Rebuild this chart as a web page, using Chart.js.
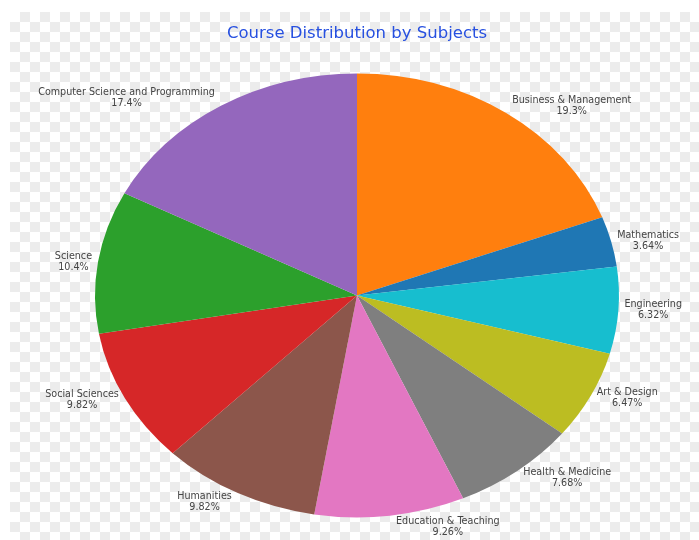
<!DOCTYPE html>
<html>
<head>
<meta charset="utf-8">
<script src="https://cdn.jsdelivr.net/npm/chart.js@4"></script>
<style>
  html, body { margin: 0; padding: 0; background: #fff; }
  #wrap { width: 699px; height: 540px; }
</style>
</head>
<body>
<div id="wrap"><canvas id="pieChart" width="699" height="540"></canvas></div>
<script>
// Данные диаграммы
const subjects = [
  "Business & Management",
  "Mathematics",
  "Engineering",
  "Art & Design",
  "Health & Medicine",
  "Education & Teaching",
  "Humanities",
  "Social Sciences",
  "Science",
  "Computer Science and Programming",
];
const shares = [19.3, 3.64, 6.32, 6.47, 7.68, 9.26, 9.82, 9.82, 10.4, 17.4];
const shareLabels = ["19.3%", "3.64%", "6.32%", "6.47%", "7.68%", "9.26%", "9.82%", "9.82%", "10.4%", "17.4%"];
const sliceColors = [
  "#ff7f0e", "#1f77b4", "#17becf", "#bcbd22", "#7f7f7f",
  "#e377c2", "#8c564b", "#d62728", "#2ca02c", "#9467bd",
];

const SQUASH = 222 / 262; // пирог сплюснут по вертикали
const LABEL_FONT = "9.6px 'DejaVu Sans'";

// Фон в клетку
const checkerBg = {
  id: "checkerBg",
  beforeDraw(chart) {
    const ctx = chart.ctx;
    ctx.save();
    ctx.fillStyle = "#fff";
    ctx.fillRect(0, 0, chart.width, chart.height);
    ctx.fillStyle = "#ececec";
    for (let y = 12; y < chart.height; y += 10) {
      for (let x = 10; x < chart.width; x += 10) {
        const row = Math.floor((y - 12) / 10);
        const col = Math.floor(x / 10);
        if ((row + col) % 2 === 0) ctx.fillRect(x, y, 10, 10);
      }
    }
    ctx.restore();
  },
};

// Сжатие круга в эллипс
const ellipse = {
  id: "ellipse",
  beforeDatasetsDraw(chart) {
    const arc = chart.getDatasetMeta(0).data[0];
    const ctx = chart.ctx;
    ctx.save();
    ctx.translate(0, arc.y);
    ctx.scale(1, SQUASH);
    ctx.translate(0, -arc.y);
  },
  afterDatasetsDraw(chart) {
    chart.ctx.restore();
  },
};

// Подписи снаружи, как в plotly
const outsideLabels = {
  id: "outsideLabels",
  afterDraw(chart) {
    const ctx = chart.ctx;
    const meta = chart.getDatasetMeta(0);
    ctx.save();
    ctx.font = LABEL_FONT;
    ctx.fillStyle = "#444";
    ctx.textAlign = "center";
    ctx.textBaseline = "middle";
    meta.data.forEach((arc, i) => {
      const mid = (arc.startAngle + arc.endAngle) / 2;
      const px = arc.outerRadius * Math.cos(mid);
      const py = arc.outerRadius * Math.sin(mid) * SQUASH;
      const w = Math.max(ctx.measureText(subjects[i]).width, ctx.measureText(shareLabels[i]).width);
      let dx = w / 2;
      let dy = 12;
      if (px < 0) dx *= -1;
      if (py < 0) dy *= -1;
      const ox = dx + (Math.abs(dy) * (dx > 0 ? 1 : -1)) / 2;
      const oy = dy / (1 + (px * px) / (py * py));
      const cx = arc.x + px + ox;
      const cy = arc.y + py + oy;
      ctx.fillText(subjects[i], cx, cy - 5.5);
      ctx.fillText(shareLabels[i], cx, cy + 5.5);
    });
    ctx.restore();
  },
};

new Chart(document.getElementById("pieChart").getContext("2d"), {
  type: "pie",
  data: {
    labels: subjects,
    datasets: [
      {
        data: shares,
        backgroundColor: sliceColors,
        borderWidth: 0,
        clip: false,
      },
    ],
  },
  options: {
    responsive: false,
    animation: false,
    radius: 262,
    layout: { padding: { left: 95, right: 80, top: 0, bottom: 3 } },
    plugins: {
      legend: { display: false },
      tooltip: { enabled: false },
      title: {
        display: true,
        text: "Course Distribution by Subjects",
        color: "#2750e0",
        font: { family: "'DejaVu Sans'", size: 16.5, weight: "normal" },
        padding: { top: 24, bottom: 10 },
      },
    },
  },
  plugins: [checkerBg, ellipse, outsideLabels],
});
</script>
</body>
</html>
